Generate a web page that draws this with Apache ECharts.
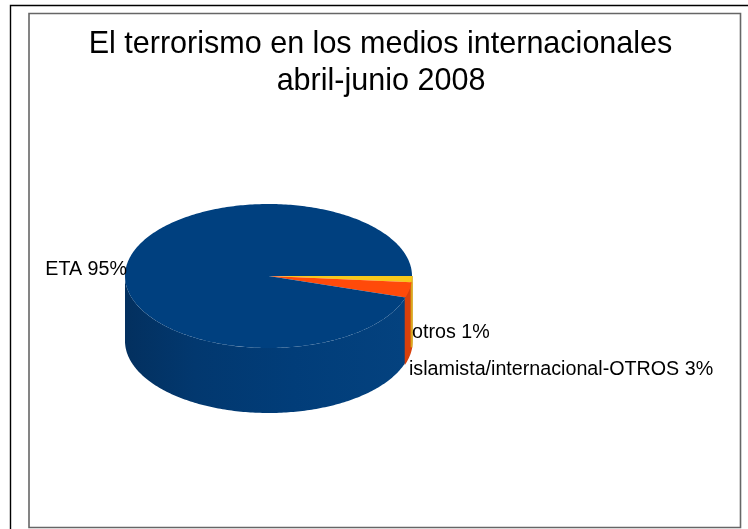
<!DOCTYPE html>
<html><head><meta charset="utf-8">
<style>html,body{margin:0;padding:0;background:#fff}#c{width:748px;height:529px}</style>
<script src="https://cdn.jsdelivr.net/npm/echarts@6/dist/echarts.min.js"></script>
</head><body><div id="c"></div>
<script>
var titleLines = ['El terrorismo en los medios internacionales', 'abril-junio 2008'];
var categories = ['otros', 'islamista/internacional-OTROS', 'ETA'];
var values = [1.4, 3.4, 95.2];

var topColors = ['#F7C81A', '#FF4A0A', '#00407F'];
var sideColors = ['#D9A81C', '#D8400C', null];
var FONT = '"Liberation Sans", Arial, sans-serif';
var CX = 268.5, CY = 276, RX = 143.5, RY = 72, DEPTH = 65;
var labelPos = [[412, 333, 'left'], [409, 370, 'left'], [127, 270, 'right']];

var total = values.reduce(function (a, b) { return a + b; }, 0);
var spans = [], acc = 0;
values.forEach(function (v) { spans.push([acc / total * 2 * Math.PI, (acc + v) / total * 2 * Math.PI]); acc += v; });

function pt(a, dy) { return [CX + RX * Math.cos(a), CY + RY * Math.sin(a) + (dy || 0)]; }
function arc(a0, a1, dy) {
  var n = Math.max(2, Math.ceil((a1 - a0) * 60)), out = [];
  for (var i = 0; i <= n; i++) out.push(pt(a0 + (a1 - a0) * i / n, dy));
  return out;
}
var sideBlue = new echarts.graphic.LinearGradient(0, 0, 1, 0, [
  { offset: 0, color: '#03305F' }, { offset: 0.25, color: '#02386F' },
  { offset: 0.6, color: '#013D79' }, { offset: 1, color: '#04427F' }
]);

function renderItem(params, api) {
  var i = params.dataIndex, s = spans[i], kids = [];
  var a0 = s[0], a1 = Math.min(s[1], Math.PI);
  if (a1 > a0) {
    var wall = arc(a0, a1, 0).concat(arc(a0, a1, DEPTH).reverse());
    var fill = sideColors[i] || sideBlue;
    kids.push({ type: 'polygon', z2: 3 - i, shape: { points: wall },
      style: { fill: fill, stroke: sideColors[i] || null, lineWidth: sideColors[i] ? 1.6 : 0 } });
  }
  var top = [[CX, CY]].concat(arc(s[0], s[1], 0));
  kids.push({ type: 'polygon', z2: 5, shape: { points: top }, style: { fill: topColors[i] } });
  var lp = labelPos[i];
  kids.push({ type: 'text', x: lp[0], y: lp[1], z2: 10, style: {
    text: categories[i] + ' ' + Math.round(values[i]) + '%',
    font: '19.7px ' + FONT, fill: '#000', align: lp[2], verticalAlign: 'middle' } });
  return { type: 'group', children: kids };
}

var chart = echarts.init(document.getElementById('c'), null, { renderer: 'canvas' });
chart.setOption({
  animation: false,
  backgroundColor: '#fff',
  graphic: [
    { type: 'polyline', shape: { points: [[10.5, 529], [10.5, 5.5], [748, 5.5]] }, style: { stroke: '#000', lineWidth: 1.4, fill: null } },
    { type: 'rect', shape: { x: 29, y: 13.5, width: 711.5, height: 514 }, style: { stroke: '#666', lineWidth: 1.6, fill: null } },
    { type: 'text', x: 380.5, y: 44, scaleX: 0.954, style: { text: titleLines[0], font: '32px ' + FONT, fill: '#000', align: 'center', verticalAlign: 'middle' } },
    { type: 'text', x: 381, y: 81.5, scaleX: 0.954, style: { text: titleLines[1], font: '32px ' + FONT, fill: '#000', align: 'center', verticalAlign: 'middle' } }
  ],
  series: [{
    type: 'custom', coordinateSystem: 'none', renderItem: renderItem, silent: true,
    data: values.map(function (v, i) { return { name: categories[i], value: v }; })
  }]
});
</script></body></html>
